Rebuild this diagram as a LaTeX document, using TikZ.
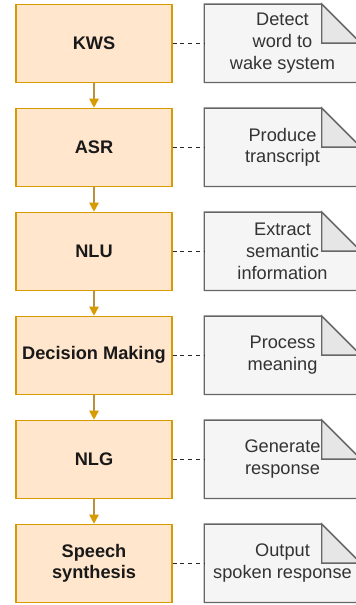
\documentclass[tikz,border=0pt]{standalone}
\usepackage{fontspec}
\setmainfont{Liberation Sans}
\usetikzlibrary{arrows.meta,backgrounds}
\definecolor{boxfill}{HTML}{FFE6CC}
\definecolor{boxdraw}{HTML}{D79B00}
\definecolor{notefill}{HTML}{F5F5F5}
\definecolor{notedraw}{HTML}{666666}
\definecolor{foldfill}{HTML}{E6E6E6}
\definecolor{notetext}{HTML}{333333}
\definecolor{arrowline}{HTML}{B8923C}
\begin{document}
\begin{tikzpicture}[x=1pt,y=-1pt,
 stage/.style={draw=boxdraw, fill=boxfill, line width=1.3pt, minimum width=156pt, minimum height=78pt, inner sep=0pt, align=center, font=\fontsize{18.2}{21.8}\selectfont\bfseries, text=black!90},
 notebox/.style={minimum width=156pt, minimum height=78pt, inner sep=0pt, align=center, font=\fontsize{18.2}{21.8}\selectfont, text=notetext},
 noteshape/.style={draw=notedraw, fill=notefill, line width=1.3pt, line join=miter},
 foldshape/.style={draw=notedraw, fill=foldfill, line width=1.3pt, line join=miter},
 flow/.style={draw=arrowline, line width=1.3pt, -{Triangle[length=9pt,width=9.5pt,color=boxdraw]}},
 link/.style={draw=black!85, line width=1.3pt, dash pattern=on 3.9pt off 3.9pt}
]
\useasboundingbox (0,0) rectangle (356,605);
\node[stage] (s1) at (94,43.3) {KWS};
\node[stage] (s2) at (94,147.3) {ASR};
\node[stage] (s3) at (94,251.3) {NLU};
\node[stage] (s4) at (94,355.3) {Decision Making};
\node[stage] (s5) at (94,459.3) {NLG};
\node[stage] (s6) at (94,563.3) {Speech\\synthesis};

\node[notebox] (n1) at (282.5,43.3) {Detect\\word to\\wake system};
\node[notebox] (n2) at (282.5,147.3) {Produce\\transcript};
\node[notebox] (n3) at (282.5,251.3) {Extract\\semantic\\information};
\node[notebox] (n4) at (282.5,355.3) {Process\\meaning};
\node[notebox] (n5) at (282.5,459.3) {Generate\\response};
\node[notebox] (n6) at (282.5,563.3) {Output\\spoken response};

\begin{scope}[on background layer]
\foreach \n in {n1,n2,n3,n4,n5,n6}{
  \path[noteshape] (\n.north west) -- ([xshift=-39pt]\n.north east) -- ([yshift=-39pt]\n.north east) -- (\n.south east) -- (\n.south west) -- cycle;
  \path[foldshape] ([xshift=-39pt]\n.north east) -- ([xshift=-39pt,yshift=-39pt]\n.north east) -- ([yshift=-39pt]\n.north east) -- cycle;
}
\end{scope}

\draw[flow] (s1) -- (s2);
\draw[flow] (s2) -- (s3);
\draw[flow] (s3) -- (s4);
\draw[flow] (s4) -- (s5);
\draw[flow] (s5) -- (s6);

\draw[link] (s1.east) -- (n1.west);
\draw[link] (s2.east) -- (n2.west);
\draw[link] (s3.east) -- (n3.west);
\draw[link] (s4.east) -- (n4.west);
\draw[link] (s5.east) -- (n5.west);
\draw[link] (s6.east) -- (n6.west);
\end{tikzpicture}
\end{document}
